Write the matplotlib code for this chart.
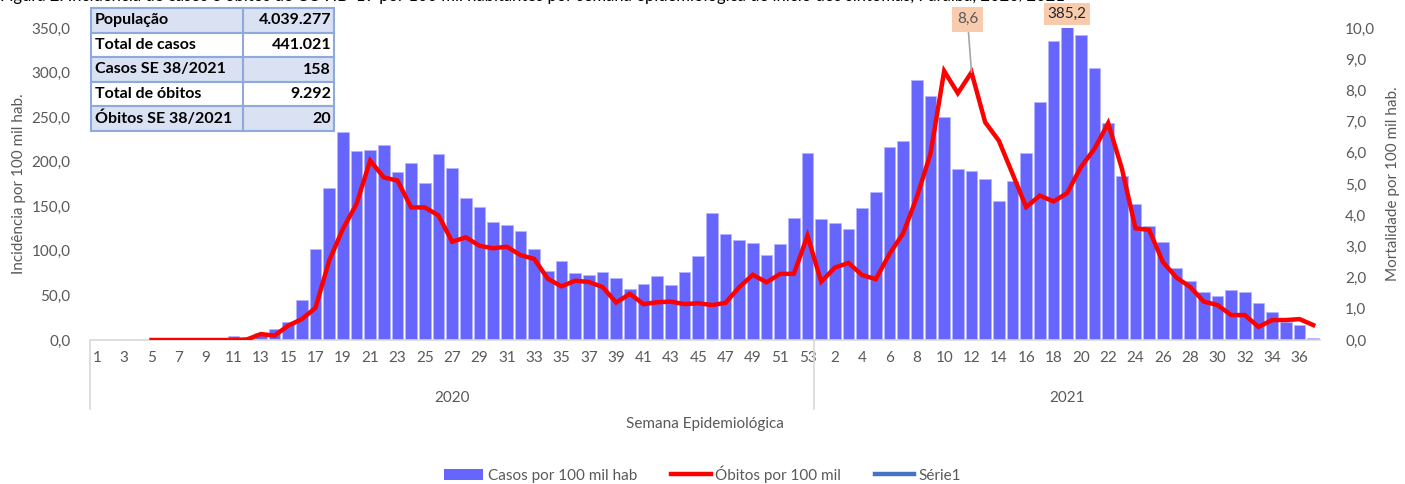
import numpy as np
import matplotlib
matplotlib.use("Agg")
import matplotlib.pyplot as plt
from matplotlib.ticker import FuncFormatter, FixedLocator
from matplotlib.patches import Rectangle
from matplotlib.lines import Line2D

plt.rcParams['font.family'] = ['Lato', 'DejaVu Sans']

# Casos por 100 mil hab, SE 1..53 de 2020 e SE 1..37 de 2021
cases_2020 = [0, 0, 0, 0, 0, 0, 0, 0, 0, 0,
              4.5, 2.0, 7.8, 12.0, 19.8, 45.0, 101.7, 171.0, 233.0, 211.7,
              213.5, 219.0, 189.0, 198.0, 176.5, 208.7, 193.3, 159.3, 149.6, 132.8,
              129.4, 121.9, 101.7, 77.0, 88.6, 74.8, 72.9, 75.9, 69.6, 57.6,
              62.8, 71.8, 62.1, 75.9, 94.2, 142.1, 118.7, 112.6, 109.2, 95.4,
              108.1, 136.9, 209.8]
cases_2021 = [135.3, 130.9, 124.4, 148.2, 165.8, 217.0, 223.0, 291.6, 273.6, 250.0,
              192.0, 190.0, 180.4, 156.0, 178.5, 210.0, 267.0, 335.7, 385.2, 342.0,
              305.4, 243.7, 184.5, 152.7, 128.0, 110.0, 81.0, 66.0, 53.5, 49.2,
              56.6, 54.4, 41.7, 31.0, 20.5, 17.0, 2.5]

# Obitos por 100 mil (eixo secundario)
deaths_2020 = [np.nan, np.nan, np.nan, np.nan, 0, 0, 0, 0, 0, 0,
               0, 0.02, 0.19, 0.14, 0.46, 0.67, 1.03, 2.54, 3.56, 4.36,
               5.75, 5.21, 5.11, 4.25, 4.25, 3.99, 3.15, 3.29, 3.02, 2.94,
               2.99, 2.72, 2.60, 1.96, 1.72, 1.90, 1.86, 1.70, 1.20, 1.48,
               1.15, 1.21, 1.23, 1.15, 1.18, 1.12, 1.19, 1.69, 2.09, 1.85,
               2.12, 2.12, 3.34]
deaths_2021 = [1.87, 2.32, 2.47, 2.08, 1.95, 2.76, 3.42, 4.58, 5.97, 8.62,
               7.91, 8.58, 6.98, 6.39, 5.33, 4.26, 4.63, 4.44, 4.71, 5.54,
               6.13, 6.95, 5.50, 3.58, 3.53, 2.50, 2.00, 1.70, 1.23, 1.12,
               0.80, 0.80, 0.42, 0.64, 0.64, 0.67, 0.48]

weeks_2020 = list(range(1, 54))
weeks_2021 = list(range(1, 38))
years = ["2020", "2021"]

table_rows = [("População", "4.039.277"),
              ("Total de casos", "441.021"),
              ("Casos SE 38/2021", "158"),
              ("Total de óbitos", "9.292"),
              ("Óbitos SE 38/2021", "20")]

cases = cases_2020 + cases_2021
deaths = deaths_2020 + deaths_2021
labels = [str(w) for w in weeks_2020] + [str(w) for w in weeks_2021]
x = np.arange(len(cases))

gray = "#595959"
fig = plt.figure(figsize=(14.05, 4.84), dpi=100)
ax = fig.add_axes([90 / 1405, 1 - 340 / 484, 1230 / 1405, 312 / 484])
ax2 = ax.twinx()

ax.bar(x, cases, width=0.84, color="#6666ff", edgecolor="#b4b4ff", linewidth=0.5, zorder=2)
ax2.plot(x, deaths, color="#ff0000", linewidth=3.2, solid_joinstyle="miter", zorder=3)

ax.set_xlim(-0.5, len(x) - 0.5)
ax.set_ylim(0, 350)
ax2.set_ylim(0, 10)
ax.set_yticks(np.arange(0, 351, 50))
ax2.set_yticks(np.arange(0, 10.1, 1))
fmt = FuncFormatter(lambda v, p: f"{v:.1f}".replace(".", ","))
ax.yaxis.set_major_formatter(fmt)
ax2.yaxis.set_major_formatter(fmt)

for a in (ax, ax2):
    for s in a.spines.values():
        s.set_visible(False)
    a.tick_params(axis="y", length=0, colors=gray, labelsize=11)
ax.tick_params(axis="y", pad=14)
ax2.tick_params(axis="y", pad=18)
ax.spines["bottom"].set_visible(True)
ax.spines["bottom"].set_color("#d9d9d9")
ax.spines["bottom"].set_linewidth(1.2)

ax.xaxis.set_major_locator(FixedLocator(x[::2]))
ax.set_xticklabels(labels[::2])
ax.tick_params(axis="x", length=0, colors=gray, labelsize=11, pad=8)

ax.set_ylabel("Incidência por 100 mil hab.", color=gray, fontsize=11, labelpad=4)
ax2.set_ylabel("Mortalidade por 100 mil hab.", color=gray, fontsize=11, labelpad=8)

# agrupamento por ano no eixo x
n20 = len(weeks_2020)
trans = ax.get_xaxis_transform()
for xb in (-0.5, n20 - 0.5):
    ax.plot([xb, xb], [0, -0.22], transform=trans, color="#d9d9d9", lw=1.2, clip_on=False)
ax.text((n20 - 1) / 2, -0.185, years[0], transform=trans, ha="center", va="center", color=gray, fontsize=11)
ax.text(n20 + (len(weeks_2021) - 1) / 2, -0.185, years[1], transform=trans, ha="center", va="center", color=gray, fontsize=11)
ax.text((len(x) - 1) / 2, -0.27, "Semana Epidemiológica", transform=trans, ha="center", va="center", color=gray, fontsize=11)

# rotulos de dados
i_max_d = n20 + 11
ax2.annotate("8,6", xy=(i_max_d, deaths[i_max_d]), xytext=(-4, 46), textcoords="offset pixels",
             ha="center", va="bottom", fontsize=11, color=gray,
             bbox=dict(boxstyle="square,pad=0.35", fc="#f8cbad", ec="none"),
             arrowprops=dict(arrowstyle="-", color="#a6a6a6", lw=1.2, shrinkA=0, shrinkB=0))
i_max_c = int(np.argmax(cases))
ax.annotate(f"{cases[i_max_c]:.1f}".replace(".", ","), xy=(i_max_c, 350), xytext=(0, 7),
            textcoords="offset pixels", ha="center", va="bottom", fontsize=11, color="#262626",
            bbox=dict(boxstyle="square,pad=0.25", fc="#f8cbad", ec="none"), annotation_clip=False)

# tabela resumo
tx0, tx1, tsplit = 91 / 1405, 334 / 1405, 243 / 1405
ty0, rh = 1 - 8 / 484, 24.6 / 484
for k, (name, val) in enumerate(table_rows):
    y_top = ty0 - k * rh
    fc = "#d9e1f2" if k % 2 == 0 else "white"
    fig.patches.append(Rectangle((tx0, y_top - rh), tx1 - tx0, rh, transform=fig.transFigure,
                                 fc=fc, ec="#8ea9db", lw=1.5, zorder=5))
    fig.lines.append(Line2D([tsplit, tsplit], [y_top - rh, y_top], transform=fig.transFigure,
                            color="#8ea9db", lw=1.5, zorder=6))
    fig.text(tx0 + 4 / 1405, y_top - rh / 2, name, ha="left", va="center", fontsize=11.5,
             fontweight="bold", color="black", zorder=7)
    fig.text(tx1 - 3 / 1405, y_top - rh / 2, val, ha="right", va="center", fontsize=11.5,
             fontweight="bold", color="black", zorder=7)

# titulo cortado no topo (so a parte de baixo aparece, como na figura original)
fig.text(0.0, 1 - 4 / 484, "Figura 2. Incidência de casos e óbitos de COVID-19 por 100 mil habitantes por semana epidemiológica de início dos sintomas, Paraíba, 2020/2021",
         ha="left", va="bottom", fontsize=12, color="black", zorder=-1)

handles = [Rectangle((0, 0), 1, 1, fc="#6666ff"),
           Line2D([], [], color="#ff0000", lw=3.2),
           Line2D([], [], color="#4472c4", lw=3.2)]
fig.legend(handles, ["Casos por 100 mil hab", "Óbitos por 100 mil", "Série1"],
           loc="center", bbox_to_anchor=(0.5, 1 - 474 / 484), ncol=3, frameon=False,
           fontsize=11, labelcolor=gray, handlelength=2.6, columnspacing=2.2, handletextpad=0.3)

fig.savefig("out.png", dpi=100)
